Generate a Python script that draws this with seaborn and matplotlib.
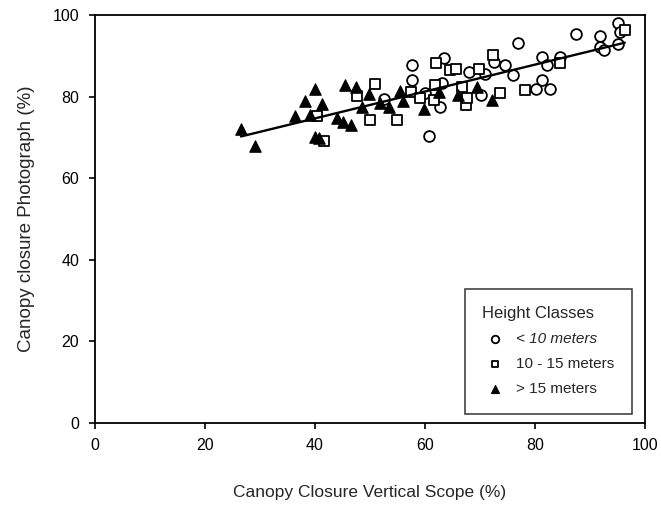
import numpy as np
import pandas as pd
import matplotlib
matplotlib.use("Agg")
import matplotlib.pyplot as plt
import seaborn as sns

# ---- data ----
classes = ["< 10 meters", "10 - 15 meters", "> 15 meters"]

circ_x = [52.5, 57.7, 57.7, 60.1, 60.7, 62.8, 63.1, 63.5, 68.1, 70.1, 71.0, 72.5,
          74.5, 76.0, 76.9, 80.1, 81.3, 81.3, 82.2, 82.7, 84.6, 87.4, 91.8, 91.8,
          92.5, 95.1, 95.1, 95.5]
circ_y = [79.4, 87.7, 84.1, 80.8, 70.4, 77.5, 83.4, 89.4, 86.0, 80.4, 85.7, 88.5,
          87.7, 85.3, 93.1, 82.0, 84.2, 89.8, 87.7, 82.0, 89.8, 95.3, 94.9, 92.1,
          91.4, 92.9, 98.1, 95.9]

sq_x = [40.4, 41.6, 47.7, 50.9, 50.1, 54.9, 57.5, 59.2, 61.6, 61.9, 62.1, 64.6,
        65.6, 66.8, 67.4, 67.7, 69.9, 72.3, 73.6, 78.1, 84.5, 96.3]
sq_y = [75.3, 69.2, 80.3, 83.2, 74.3, 74.2, 81.2, 79.8, 79.2, 82.8, 88.2, 86.5,
        86.8, 82.4, 77.9, 79.6, 86.7, 90.2, 80.8, 81.6, 88.2, 96.3]

tri_x = [26.6, 29.2, 36.5, 38.3, 39.1, 40.1, 41.4, 40.0, 40.7, 44.0, 45.1, 46.6,
         45.5, 47.5, 48.6, 49.8, 51.9, 53.4, 55.5, 56.1, 59.8, 62.5, 66.1, 69.5, 72.2]
tri_y = [72.1, 67.9, 75.2, 79.0, 75.5, 82.0, 78.2, 70.2, 69.8, 74.7, 73.9, 73.0,
         82.8, 82.3, 77.5, 80.6, 78.4, 77.5, 81.4, 79.0, 77.1, 81.2, 80.4, 82.4, 79.2]

x_ticks = [0, 20, 40, 60, 80, 100]
y_ticks = [0, 20, 40, 60, 80, 100]

df = pd.concat([
    pd.DataFrame({"x": circ_x, "y": circ_y, "cls": classes[0]}),
    pd.DataFrame({"x": sq_x, "y": sq_y, "cls": classes[1]}),
    pd.DataFrame({"x": tri_x, "y": tri_y, "cls": classes[2]}),
], ignore_index=True)

# ---- style ----
sns.set_style("ticks")
plt.rcParams["font.family"] = ["Liberation Sans", "DejaVu Sans"]

fig = plt.figure(figsize=(6.61, 5.07), dpi=100)
ax = fig.add_axes([0.143, 0.166, 0.833, 0.804])

styles = {
    classes[0]: dict(marker="o", facecolor="white", edgecolor="black", s=60, linewidth=1.3),
    classes[1]: dict(marker="s", facecolor="white", edgecolor="black", s=50, linewidth=1.3),
    classes[2]: dict(marker="^", facecolor="black", edgecolor="black", s=68, linewidth=0.8),
}
for c in classes:
    sub = df[df["cls"] == c]
    sns.scatterplot(data=sub, x="x", y="y", ax=ax, label=c, zorder=3, **styles[c])

sns.regplot(data=df, x="x", y="y", scatter=False, ci=None, truncate=True, ax=ax,
            color="black", line_kws=dict(linewidth=1.7, zorder=4))

ax.set_xlim(0, 100)
ax.set_ylim(0, 100)
ax.set_xticks(x_ticks)
ax.set_yticks(y_ticks)
ax.tick_params(direction="out", length=4, width=1.2, labelsize=11.5, colors="black", pad=7)
for sp in ax.spines.values():
    sp.set_visible(True)
    sp.set_color("black")
    sp.set_linewidth(1.3)

ax.set_xlabel("Canopy Closure Vertical Scope (%)", fontsize=12.5, labelpad=23)
ax.set_ylabel("Canopy closure Photograph (%)", fontsize=13.5, labelpad=13)

leg = ax.legend(title="Height Classes", loc="lower right", bbox_to_anchor=(0.976, 0.022),
                borderaxespad=0, frameon=True, fancybox=False, edgecolor="black",
                fontsize=11, title_fontsize=12, markerscale=0.7,
                handletextpad=0.6, labelspacing=0.72, borderpad=1.15, handlelength=1.6)
leg.get_frame().set_linewidth(1.1)
leg._legend_box.align = "left"
leg.get_texts()[0].set_style("italic")

fig.savefig("out.png", dpi=100)
